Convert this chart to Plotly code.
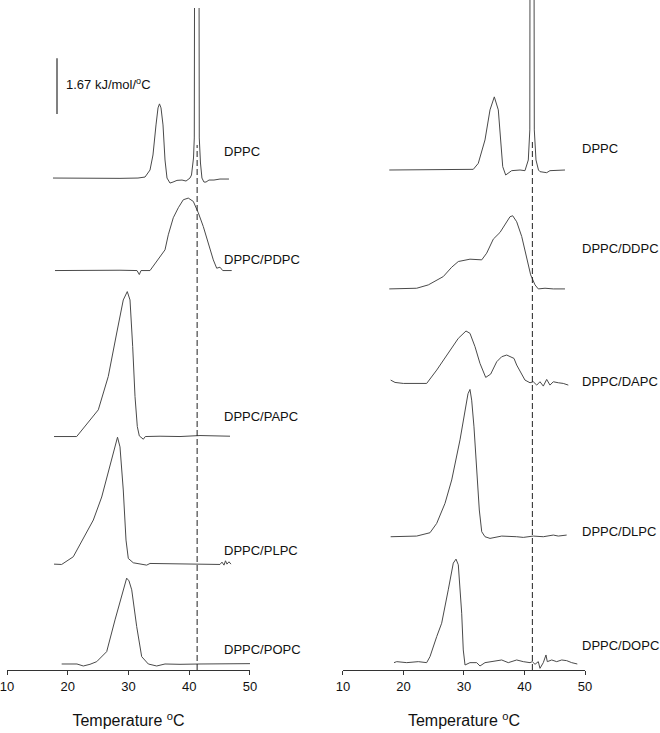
import plotly.graph_objects as go
from plotly.subplots import make_subplots

# DSC thermograms, excess heat capacity (kJ/mol/oC) vs temperature (oC)
# left panel
t_dppc_l = [17.57, 22.02, 25.31, 28.60, 31.56, 32.72, 33.54, 34.03, 34.53, 34.86, 35.10, 35.35, 35.68, 36.01,
            36.34, 36.83, 37.33, 37.98, 38.81, 39.47, 40.12, 40.37, 40.70, 40.83, 40.90, 41.24, 41.59, 41.65,
            41.85, 42.09, 42.42, 42.76, 43.25, 44.07, 45.06, 46.54]
cp_dppc_l = [0, -0.01, 0, -0.01, 0, 0.03, 0.24, 0.69, 1.59, 2.10, 2.22, 2.10, 1.59, 0.54,
             0, -0.15, -0.12, -0.07, -0.06, -0.09, 0, 0.09, 0.60, 1.20, 8.98, 10.18, 8.98, 1.20,
             0.45, 0, -0.12, -0.12, -0.06, -0.06, -0.03, -0.03]

t_pdpc = [17.90, 22.02, 25.31, 28.60, 31.40, 31.78, 32.06, 33.54, 36.01, 36.55, 37.37, 38.20, 39.02, 39.84,
          40.67, 41.49, 42.31, 43.14, 43.96, 44.52, 45.06, 45.51, 46.99]
cp_pdpc = [0, 0.01, 0, 0.01, 0, -0.12, 0, 0, 0.62, 1.07, 1.58, 1.88, 2.12, 2.17,
           2.07, 1.73, 1.32, 0.82, 0.32, 0.07, 0.10, 0, 0]

t_papc = [17.74, 21.47, 25.03, 26.67, 28.06, 29.14, 29.80, 30.25, 30.69, 31.07, 31.45, 31.78, 32.44, 32.77,
          35.19, 38.48, 41.77, 44.24, 46.71]
cp_papc = [0, 0, 0.80, 1.80, 3.10, 4.09, 4.34, 4.09, 2.69, 1.20, 0.30, 0.02, -0.08, 0,
           0.01, 0, 0.03, 0.01, 0.01]

t_plpc = [17.74, 19.00, 20.91, 22.30, 24.21, 25.59, 26.95, 27.94, 28.19, 28.60, 29.14, 29.59, 29.97, 30.79,
          32.99, 33.54, 36.83, 40.12, 43.41, 45.06, 45.39, 45.72, 45.97, 46.21, 46.54, 46.87]
cp_plpc = [0, -0.01, 0.22, 0.67, 1.32, 2.01, 2.91, 3.56, 3.80, 3.51, 2.22, 0.72, 0.17, 0.04,
           -0.03, 0.02, 0.01, 0, 0, -0.01, 0.06, -0.03, 0.10, 0, 0.07, 0]

t_popc = [19.00, 20.37, 21.52, 22.56, 23.66, 24.77, 26.41, 27.78, 28.88, 29.70, 30.08, 30.53, 31.35, 32.17,
          33.26, 34.64, 36.01, 38.48, 41.77, 45.06, 47.53, 50.00]
cp_popc = [0, 0.01, 0, -0.06, -0.01, 0.07, 0.37, 1.32, 2.01, 2.57, 2.49, 2.22, 1.12, 0.22,
           0, -0.06, 0, -0.01, 0, 0.01, 0, 0.01]

# right panel
t_dppc_r = [17.65, 21.07, 24.38, 27.69, 31.54, 32.36, 33.47, 34.30, 35.01, 35.67, 36.07, 36.40, 36.89, 37.88,
            39.26, 40.08, 40.63, 40.88, 40.93, 41.24, 41.55, 41.62, 41.90, 42.31, 42.56, 43.67, 44.21, 45.37,
            46.69]
cp_dppc_r = [0, 0.01, 0, 0.01, 0.02, 0.20, 0.90, 1.80, 2.19, 1.80, 0.90, 0.10, -0.15, -0.02,
             0, -0.02, 0.30, 1.20, 9.58, 10.48, 9.58, 1.20, 0.30, 0, -0.05, -0.08, -0.02, -0.01,
             0]

t_ddpc = [17.65, 20.25, 22.18, 24.10, 26.58, 27.97, 29.06, 30.99, 32.93, 33.75, 34.84, 35.95, 36.78, 37.60,
          38.05, 38.71, 39.54, 40.36, 41.02, 41.74, 42.28, 43.39, 44.76, 46.69]
cp_ddpc = [0, 0, 0.02, 0.12, 0.37, 0.65, 0.82, 0.89, 0.87, 1.07, 1.49, 1.69, 1.92, 2.16,
           2.19, 2.01, 1.57, 0.97, 0.42, 0.12, 0, 0.02, 0, 0]

t_dapc = [17.88, 18.60, 19.97, 23.83, 25.49, 27.69, 29.06, 30.33, 30.99, 31.82, 32.64, 33.59, 34.41, 35.41,
          36.23, 37.06, 38.26, 38.71, 39.54, 40.08, 40.91, 41.45, 42.02, 42.56, 43.11, 43.67, 44.21, 44.76,
          45.59, 46.41, 47.24]
cp_dapc = [0.10, 0.03, 0, 0, 0.40, 1.00, 1.35, 1.57, 1.50, 1.10, 0.60, 0.18, 0.28, 0.65,
           0.80, 0.85, 0.75, 0.55, 0.30, 0.10, 0.02, 0.05, -0.05, 0.05, -0.08, 0.12, -0.05, 0.05,
           0.02, 0, -0.05]

t_dlpc = [17.88, 20.25, 22.18, 24.38, 25.49, 26.86, 27.97, 29.34, 30.17, 30.66, 30.99, 31.27, 31.65, 32.10,
          32.53, 32.93, 33.47, 34.30, 36.23, 38.71, 39.80, 41.45, 43.11, 44.76, 45.59, 46.97]
cp_dlpc = [0, 0.01, 0.02, 0.12, 0.40, 1.00, 1.70, 2.90, 3.79, 4.28, 4.41, 4.09, 3.29, 2.10,
           0.80, 0.15, 0, -0.05, 0.02, 0, -0.02, 0.02, 0, 0.05, 0.02, 0.05]

t_dopc = [18.43, 18.88, 20.53, 22.45, 23.83, 24.38, 25.49, 26.31, 27.40, 28.23, 28.68, 29.06, 29.62, 29.88,
          30.17, 30.99, 32.10, 32.64, 33.47, 34.84, 36.23, 37.32, 38.71, 39.80, 40.91, 41.29, 41.74, 42.28,
          42.56, 43.11, 43.55, 43.77, 44.50, 45.32, 46.15, 46.97, 47.80, 48.73]
cp_dopc = [0, 0.03, 0, 0.03, 0, 0.18, 0.78, 1.18, 2.18, 2.98, 3.10, 2.93, 1.48, 0.38,
           -0.07, 0, 0, -0.10, 0, 0.03, 0.08, 0, 0.08, 0.03, 0, 0.03, -0.05, 0.03,
           -0.17, 0, 0.23, 0.03, 0.08, 0.03, 0.08, 0.06, 0, -0.04]

names_left = ['DPPC', 'DPPC/PDPC', 'DPPC/PAPC', 'DPPC/PLPC', 'DPPC/POPC']
names_right = ['DPPC', 'DPPC/DDPC', 'DPPC/DAPC', 'DPPC/DLPC', 'DPPC/DOPC']
offsets_left = [14.73, 11.96, 6.99, 3.17, 0.18]
offsets_right = [14.97, 11.41, 8.58, 3.99, 0.22]

tm_dppc = 41.3          # main transition of DPPC (dashed line)
scale_bar = 1.67        # kJ/mol/oC

FONT = 'Liberation Sans, Arial, sans-serif'
LINE = '#4a4a4a'

fig = make_subplots(rows=1, cols=2)

left = [(t_dppc_l, cp_dppc_l), (t_pdpc, cp_pdpc), (t_papc, cp_papc), (t_plpc, cp_plpc), (t_popc, cp_popc)]
right = [(t_dppc_r, cp_dppc_r), (t_ddpc, cp_ddpc), (t_dapc, cp_dapc), (t_dlpc, cp_dlpc), (t_dopc, cp_dopc)]

for (t, cp), off, nm in zip(left, offsets_left, names_left):
    fig.add_trace(go.Scatter(x=t, y=[off + c for c in cp], mode='lines', name=nm,
                             line=dict(color=LINE, width=1)), row=1, col=1)
for (t, cp), off, nm in zip(right, offsets_right, names_right):
    fig.add_trace(go.Scatter(x=t, y=[off + c for c in cp], mode='lines', name=nm,
                             line=dict(color=LINE, width=1)), row=1, col=2)

# dashed reference lines at DPPC Tm
fig.add_trace(go.Scatter(x=[tm_dppc, tm_dppc], y=[0, 15.72], mode='lines',
                         line=dict(color='#222', width=1, dash='6px,3px')), row=1, col=1)
fig.add_trace(go.Scatter(x=[tm_dppc, tm_dppc], y=[0, 15.87], mode='lines',
                         line=dict(color='#222', width=1, dash='6px,3px')), row=1, col=2)

# scale bar
fig.add_trace(go.Scatter(x=[18.23, 18.23], y=[16.65, 16.65 + scale_bar], mode='lines',
                         line=dict(color='#808080', width=2)), row=1, col=1)
fig.add_annotation(x=19.43, y=17.54, xref='x', yref='y', text='%.2f kJ/mol/<sup>o</sup>C' % scale_bar,
                   showarrow=False, xanchor='left', yanchor='middle',
                   font=dict(family=FONT, size=13, color='#111'))

label_y_left = [15.51, 12.28, 7.58, 3.59, 0.60]
label_y_right = [15.60, 12.63, 8.65, 4.16, 0.73]
for nm, y in zip(names_left, label_y_left):
    fig.add_annotation(x=45.34, y=y, xref='x', yref='y', text=nm, showarrow=False,
                       xanchor='left', yanchor='middle', font=dict(family=FONT, size=13, color='#111'))
for nm, y in zip(names_right, label_y_right):
    fig.add_annotation(x=49.17, y=y, xref='x2', yref='y2', text=nm, showarrow=False,
                       xanchor='left', yanchor='middle', font=dict(family=FONT, size=13, color='#111'))

xax = dict(range=[10, 50], tickvals=[10, 20, 30, 40, 50], ticks='outside', ticklen=4,
           tickcolor='#333', showline=True, linecolor='#333', linewidth=1, showgrid=False,
           zeroline=False, automargin=False, ticklabeloverflow='allow',
           tickfont=dict(family=FONT, size=13, color='#111'),
           title=dict(text='Temperature <sup>o</sup>C', font=dict(family=FONT, size=16, color='#111'),
                      standoff=22))
fig.update_xaxes(**xax)
fig.update_yaxes(automargin=False)
fig.update_layout(
    width=660, height=733,
    margin=dict(l=7, r=75, t=0, b=63, autoexpand=False),
    showlegend=False,
    plot_bgcolor='white', paper_bgcolor='white',
    xaxis=dict(domain=[0, 0.4204]),
    xaxis2=dict(domain=[0.5813, 1.0]),
    yaxis=dict(range=[0, 19.82], domain=[0, 0.988], visible=False),
    yaxis2=dict(range=[0, 20.06], domain=[0, 1], visible=False),
)

# page has a default 8px body margin; drop it so the figure sits at the window corner
fig.write_html("out.html", config={'displayModeBar': False},
               post_script="document.body.style.margin='0';document.body.style.overflow='hidden';")
